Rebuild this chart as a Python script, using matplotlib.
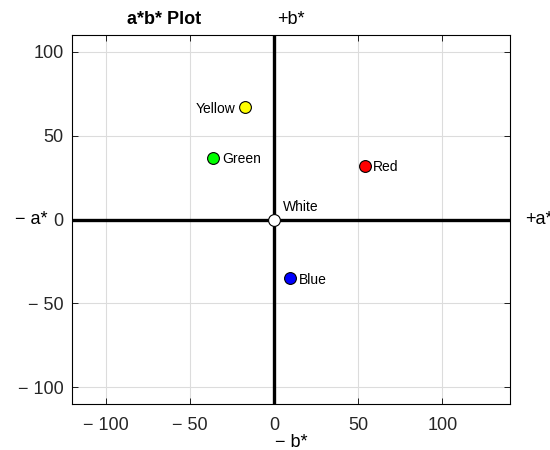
import matplotlib.pyplot as plt

plt.rcParams['font.family'] = ['Liberation Sans', 'DejaVu Sans']

names = ["Yellow", "Green", "Red", "Blue", "White"]
a_vals = [-17, -36, 54, 9.5, 0]
b_vals = [67, 37, 32, -35, 0]
colors = ["#ffff00", "#00ff00", "#ff0000", "#0000ff", "#ffffff"]
label_side = ["left", "right", "right", "right", "upright"]

xticks = [-100, -50, 0, 50, 100]
yticks = [-100, -50, 0, 50, 100]

def fmt(v):
    return ("\u2212 %d" % -v) if v < 0 else "%d" % v

fig = plt.figure(figsize=(5.5, 4.5), dpi=100)
ax = fig.add_axes([0.131, 0.102, 0.796, 0.82])

ax.set_xlim(-120, 140)
ax.set_ylim(-110, 110)
ax.set_xticks(xticks)
ax.set_yticks(yticks)
ax.set_xticklabels([fmt(v) for v in xticks], fontsize=13, color="#262626")
ax.set_yticklabels([fmt(v) for v in yticks], fontsize=13, color="#262626")
ax.tick_params(direction="in", top=True, right=True, length=4, width=0.6)
ax.tick_params(axis="x", pad=9)
ax.tick_params(axis="y", pad=6)
ax.grid(True, color="#dcdcdc", linewidth=0.8)
ax.set_axisbelow(True)
for s in ax.spines.values():
    s.set_linewidth(0.8)

ax.axhline(0, color="black", linewidth=2.4, zorder=2)
ax.axvline(0, color="black", linewidth=2.4, zorder=2)

for n, a, b, c, side in zip(names, a_vals, b_vals, colors, label_side):
    ax.plot(a, b, "o", markersize=8.5, markerfacecolor=c, markeredgecolor="black",
            markeredgewidth=0.8, zorder=3)
    if side == "left":
        ax.annotate(n, (a, b), xytext=(-7, -1), textcoords="offset points",
                    ha="right", va="center", fontsize=10)
    elif side == "right":
        ax.annotate(n, (a, b), xytext=(6, -1), textcoords="offset points",
                    ha="left", va="center", fontsize=10)
    else:
        ax.annotate(n, (a, b), xytext=(6, 4), textcoords="offset points",
                    ha="left", va="bottom", fontsize=10)

ax.set_xlabel("\u2212 b*", fontsize=13, labelpad=0)
ax.text(0.5, 1.02, "+b*", transform=ax.transAxes, ha="center", va="bottom", fontsize=13)
ax.text(-0.055, 0.5, "\u2212 a*", transform=ax.transAxes, ha="right", va="center", fontsize=13)
ax.text(1.035, 0.5, "+a*", transform=ax.transAxes, ha="left", va="center", fontsize=13)
ax.text(0.21, 1.02, "a*b* Plot", transform=ax.transAxes, ha="center", va="bottom",
        fontsize=13, fontweight="bold")

fig.savefig("out.png", dpi=100)
